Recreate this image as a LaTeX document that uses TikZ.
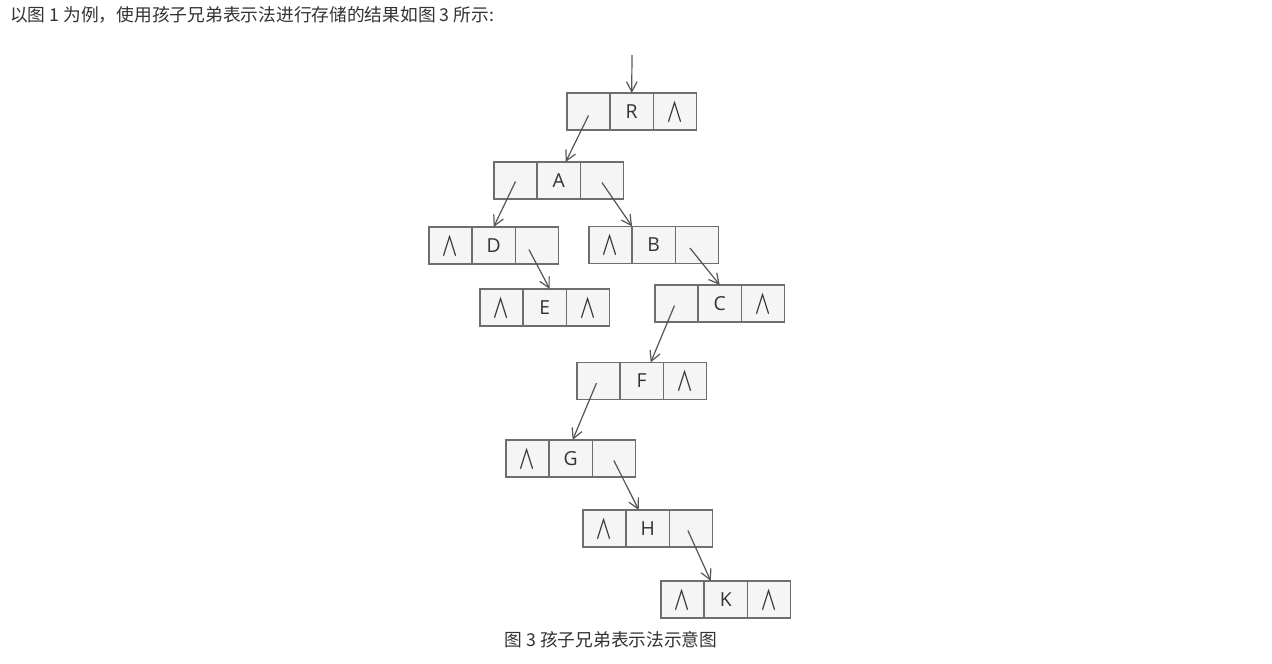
\documentclass[tikz,border=0pt]{standalone}
\usepackage{fontspec}
\setmainfont{Open Sans}
\newfontfamily\cjk{Noto Sans CJK SC}
\usetikzlibrary{positioning}
\usetikzlibrary{calc}
\usetikzlibrary{arrows.meta}
\definecolor{GrisCase}{HTML}{F5F5F5}
\definecolor{GrisBord}{HTML}{6E6E6E}
\definecolor{GrisFleche}{HTML}{555555}
\definecolor{GrisTexte}{HTML}{333333}
\tikzset{
	cell/.style={draw=GrisBord, fill=GrisCase, line width=1pt, outer sep=0pt,
		minimum width=32.4pt, minimum height=27.9pt, inner sep=0pt,
		font=\fontsize{14.5}{16}\selectfont, text=black!80},
	ptr/.style={-{Straight Barb[length=7.5pt,width=8pt]}, GrisFleche, line width=0.9pt},
	legende/.style={text=GrisTexte, inner sep=0pt, font=\cjk\fontsize{13.3}{15}\selectfont}
}
% case vide (pointeur nul)
\newcommand{\nul}{\scalebox{0.8}[1.3]{\cjk\fontsize{16}{18}\selectfont ∧}}
% noeud : premier fils | donnee | frere suivant
\newcommand{\liste}[5]{%
	\node[cell] at (#2) (#1a) {#3};
	\node[cell, right=0pt of #1a] (#1b) {#4};
	\node[cell, right=0pt of #1b] (#1c) {#5};}

\begin{document}
\begin{tikzpicture}[x=0.75pt, y=-0.75pt]
	\fill[white] (0,0) rectangle (1272,664);
	\useasboundingbox (0,0) rectangle (1272,664);
	%
	\node[legende, anchor=west] at (10,15) (titre) {以图 1 为例，使用孩子兄弟表示法进行存储的结果如图 3 所示:};
	\node[legende] at (611,640) (caption) {图 3 孩子兄弟表示法示意图};
	%
	\liste{R}{588.5,111.5}{}{R}{\nul}
	\liste{A}{515.5,180.5}{}{A}{}
	\liste{D}{450.5,245.5}{\nul}{D}{}
	\liste{B}{610.5,245}{\nul}{B}{}
	\liste{E}{501.5,307.5}{\nul}{E}{\nul}
	\liste{C}{676.5,303.5}{}{C}{\nul}
	\liste{F}{598.5,381}{}{F}{\nul}
	\liste{G}{527.5,458.5}{\nul}{G}{}
	\liste{H}{604.5,528.5}{\nul}{H}{}
	\liste{K}{682.5,599.5}{\nul}{K}{\nul}
	%
	\coordinate (racine) at (632,55);
	\draw[ptr] (racine) -- (Rb.north);
	\draw[ptr] ($(Ra)+(0,4)$) -- ($(Ab.north)+(7,0)$);
	\draw[ptr] ($(Aa)+(0,1)$) -- (Db.north);
	\draw[ptr] ($(Ac)+(0,2)$) -- (Ba.north east);
	\draw[ptr] ($(Dc)+(-8,4)$) -- ($(Eb.north)+(5,0)$);
	\draw[ptr] ($(Bc)+(-7,3)$) -- (Cb.north);
	\draw[ptr] ($(Ca)+(-2,2)$) -- ($(Fb.north)+(9,0)$);
	\draw[ptr] ($(Fa)+(-2,2)$) -- ($(Gb.north)+(2,0)$);
	\draw[ptr] ($(Gc)+(0,2)$) -- ($(Hb.north)+(-9,0)$);
	\draw[ptr] ($(Hc)+(-3,2)$) -- ($(Kb.north)+(-15,0)$);
\end{tikzpicture}
\end{document}
